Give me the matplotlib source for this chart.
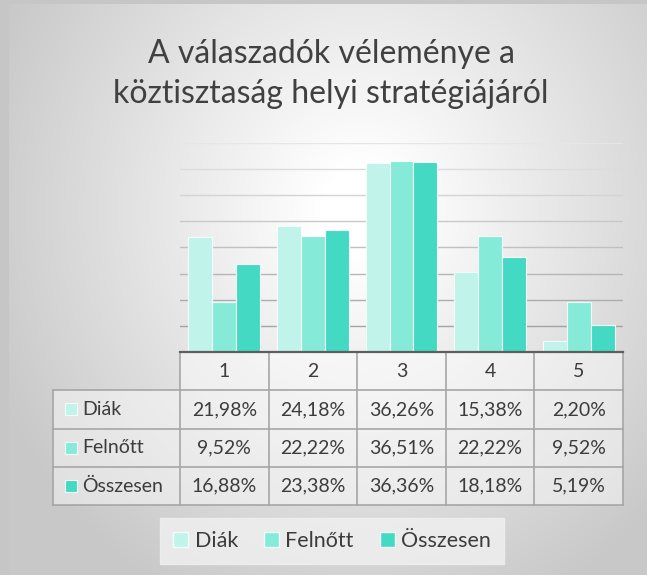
import numpy as np
import matplotlib
matplotlib.use("Agg")
import matplotlib.pyplot as plt
from matplotlib.patches import Rectangle, Patch

categories = ["1", "2", "3", "4", "5"]
series_names = ["Diák", "Felnőtt", "Összesen"]
diak = [21.98, 24.18, 36.26, 15.38, 2.20]
felnott = [9.52, 22.22, 36.51, 22.22, 9.52]
osszesen = [16.88, 23.38, 36.36, 18.18, 5.19]
title = "A válaszadók véleménye a\nköztisztaság helyi stratégiájáról"

series = [diak, felnott, osszesen]
colors = ["#c0f3ea", "#85ebd8", "#44d9c3"]

plt.rcParams['font.family'] = ['Lato', 'DejaVu Sans']

W, H = 647, 575
fig = plt.figure(figsize=(W / 100, H / 100), dpi=100)
fig.patch.set_facecolor("#c6c6c6")

# background radial gradient, placed pixel-exact
yy, xx = np.mgrid[4:H, 9:W]
d = np.hypot(xx - 360, (yy - 210) / 1.1)
t = np.clip((d - 40) / 360, 0, 1)
val = 255 - 55 * t
img = np.dstack([val, val, val]) / 255.0
fig.figimage(img, xo=9, yo=0, origin="upper", zorder=0)

# main axes
left, right = 180, 623
top, base = 143, 352
ax = fig.add_axes([left / W, 1 - base / H, (right - left) / W, (base - top) / H], zorder=2)
ax.patch.set_alpha(0)
x = np.arange(len(categories))
bw = 0.27
for i, (s, c) in enumerate(zip(series, colors)):
    ax.bar(x + (i - 1) * bw, s, width=bw, color=c, edgecolor="#f4fffc", linewidth=0.8, zorder=3,
           label=series_names[i])
ax.set_xlim(-0.5, len(categories) - 0.5)
ax.set_ylim(0, 40)
for k, yv in enumerate(range(5, 45, 5)):
    g = 0.64 + 0.26 * (k / 7)
    ax.axhline(yv, color=(g, g, g), lw=1.0, zorder=1)
ax.set_xticks([])
ax.set_yticks([])
for sp in ["top", "right", "left"]:
    ax.spines[sp].set_visible(False)
ax.spines["bottom"].set_color("#5e5e5e")
ax.spines["bottom"].set_linewidth(1.6)
ax.spines["bottom"].set_zorder(5)

# data table
ph = base - top
r = 38.3 / ph
xl = (53 - left) / (right - left)
lc = "#a6a6a6"
lw = 1.2
tr = ax.transAxes
ax.add_patch(Rectangle((0, -r), 1, r, transform=tr, facecolor="white", alpha=0.45, edgecolor="none", clip_on=False))
ax.add_patch(Rectangle((xl, -4 * r), 1 - xl, 3 * r, transform=tr, facecolor="white", alpha=0.45, edgecolor="none", clip_on=False))
ax.plot([0, 1], [-r, -r], transform=tr, color=lc, lw=lw, clip_on=False)
for j in range(2, 5):
    ax.plot([xl, 1], [-j * r, -j * r], transform=tr, color=lc, lw=lw, clip_on=False)
ax.plot([xl, 0], [-r, -r], transform=tr, color=lc, lw=lw, clip_on=False)
ax.plot([xl, xl], [-r, -4 * r], transform=tr, color=lc, lw=lw, clip_on=False)
for i in range(len(categories) + 1):
    ax.plot([i / 5, i / 5], [0, -4 * r], transform=tr, color=lc, lw=lw, clip_on=False)
fs = 14
tc = "#3c3c3c"
for i, cat in enumerate(categories):
    ax.text((i + 0.5) / 5, -0.5 * r, cat, transform=tr, ha="center", va="center", fontsize=fs, color=tc)
for j, (s, nm, c) in enumerate(zip(series, series_names, colors)):
    yc = -(j + 1.5) * r
    for i, v in enumerate(s):
        ax.text((i + 0.5) / 5, yc, f"{v:.2f}".replace(".", ",") + "%", transform=tr,
                ha="center", va="center", fontsize=fs, color=tc)
    sq = 12
    ax.add_patch(Rectangle(((65 - left) / (right - left), yc - sq / 2 / ph), sq / (right - left), sq / ph,
                           transform=tr, facecolor=c, edgecolor="#f0fffb", lw=0.8, clip_on=False))
    ax.text((82 - left) / (right - left), yc, nm, transform=tr, ha="left", va="center", fontsize=fs, color=tc)

# title
fig.text(331 / W, 1 - 74 / H, title, ha="center", va="center", fontsize=23, color="#404040", linespacing=1.45)

# legend
handles = [Patch(facecolor=c, edgecolor="#f0fffb", label=n) for c, n in zip(colors, series_names)]
leg = fig.legend(handles=handles, loc="center", bbox_to_anchor=(332 / W, 1 - 541 / H), ncol=3,
                 frameon=True, fancybox=False, fontsize=15.5, handlelength=0.7, handleheight=0.7,
                 handletextpad=0.3, columnspacing=1.2, borderpad=0.6)
leg.get_frame().set_facecolor("#f1f1f1")
leg.get_frame().set_edgecolor("#f1f1f1")
for t_ in leg.get_texts():
    t_.set_color(tc)

fig.savefig("out.png", dpi=100)
